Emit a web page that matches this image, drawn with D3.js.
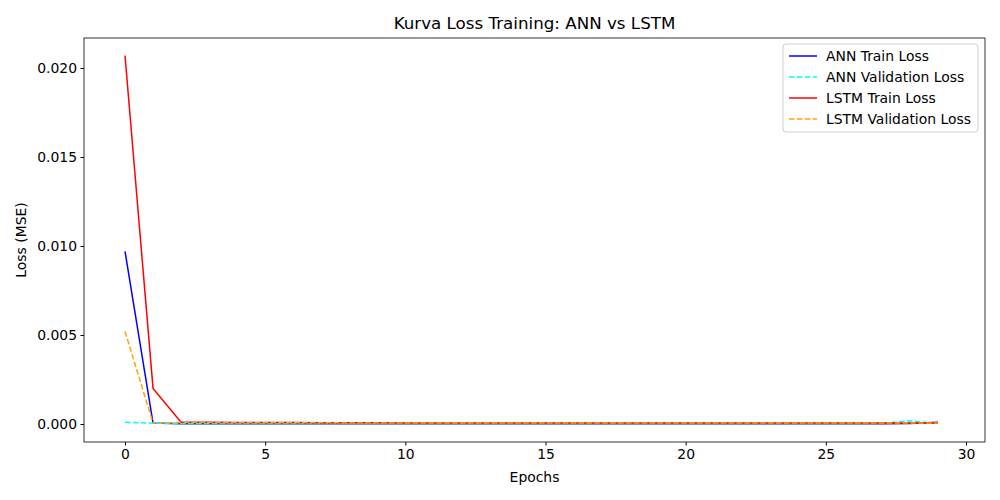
<!DOCTYPE html>
<html><head><meta charset="utf-8">
<script src="https://cdn.jsdelivr.net/npm/d3@7"></script>
<style>body{margin:0;background:#fff}text{font-family:"DejaVu Sans",sans-serif}</style>
</head><body><svg id="c" width="1000" height="500"></svg>
<script>
const epochs = d3.range(30);
const annTrain = [0.0097,0.00005,0.00002,0.00002,0.00002,0.00002,0.00002,0.00002,0.00002,0.00002,0.00002,0.00002,0.00002,0.00002,0.00002,0.00002,0.00002,0.00002,0.00002,0.00002,0.00002,0.00002,0.00002,0.00002,0.00002,0.00002,0.00002,0.00002,0.00003,0.0001];
const annVal = [0.0001,0.00004,0.00003,0.00003,0.00003,0.00003,0.00003,0.00003,0.00003,0.00003,0.00003,0.00003,0.00003,0.00003,0.00003,0.00003,0.00003,0.00003,0.00003,0.00003,0.00003,0.00003,0.00003,0.00003,0.00003,0.00003,0.00003,0.00004,0.00018,0.00003];
const lstmTrain = [0.0207,0.0020,0.0001,0.0001,0.00009,0.00008,0.00008,0.00007,0.00007,0.00007,0.00006,0.00006,0.00006,0.00006,0.00006,0.00006,0.00006,0.00005,0.00005,0.00005,0.00005,0.00005,0.00005,0.00005,0.00005,0.00005,0.00005,0.00005,0.00005,0.00005];
const lstmVal = [0.0052,0.00005,0.00008,0.00008,0.00007,0.00007,0.00007,0.00007,0.00006,0.00006,0.00006,0.00006,0.00006,0.00006,0.00006,0.00006,0.00006,0.00006,0.00006,0.00006,0.00006,0.00006,0.00006,0.00006,0.00006,0.00006,0.00006,0.00006,0.00006,0.00006];
const series = [
 {name:"ANN Train Loss", v:annTrain, c:"blue", d:null},
 {name:"ANN Validation Loss", v:annVal, c:"cyan", d:"5.5,2.4"},
 {name:"LSTM Train Loss", v:lstmTrain, c:"red", d:null},
 {name:"LSTM Validation Loss", v:lstmVal, c:"orange", d:"5.5,2.4"}];
const xTicks=[0,5,10,15,20,25,30], yTicks=[0,0.005,0.01,0.015,0.02];
const L=84,R=985,T=38,B=442;
const svg=d3.select("#c");
const x=d3.scaleLinear().domain([0,30]).range([125,966]);
const y=d3.scaleLinear().domain([0,0.02]).range([424,68]);
svg.append("clipPath").attr("id","cp").append("rect").attr("x",L).attr("y",T).attr("width",R-L).attr("height",B-T);
const g=svg.append("g").attr("clip-path","url(#cp)");
const line=d3.line().x((d,i)=>x(epochs[i])).y(d=>y(d));
series.forEach(s=>g.append("path").attr("d",line(s.v)).attr("fill","none").attr("stroke",s.c).attr("stroke-width",1.5).attr("stroke-dasharray",s.d));
svg.append("g").attr("transform",`translate(0,${B})`).call(d3.axisBottom(x).tickValues(xTicks).tickFormat(d3.format("d")).tickSizeOuter(0).tickSize(3.5).tickPadding(3.5)).call(a=>a.select(".domain").remove());
svg.append("g").attr("transform",`translate(${L},0)`).call(d3.axisLeft(y).tickValues(yTicks).tickFormat(d3.format(".3f")).tickSizeOuter(0).tickSize(3.5).tickPadding(3.5)).call(a=>a.select(".domain").remove());
svg.selectAll(".tick text").attr("font-size",13.9).attr("fill","#000").style("font-family","DejaVu Sans");
svg.selectAll(".tick line").attr("stroke","#000");
svg.append("rect").attr("x",L).attr("y",T).attr("width",R-L).attr("height",B-T).attr("fill","none").attr("stroke","#000").attr("stroke-width",0.8);
svg.append("text").attr("x",(L+R)/2).attr("y",29).attr("text-anchor","middle").attr("font-size",16.7).text("Kurva Loss Training: ANN vs LSTM");
svg.append("text").attr("x",(L+R)/2).attr("y",482).attr("text-anchor","middle").attr("font-size",13.9).text("Epochs");
svg.append("text").attr("transform",`translate(26,${(T+B)/2}) rotate(-90)`).attr("text-anchor","middle").attr("font-size",13.9).text("Loss (MSE)");
const lg=svg.append("g").attr("transform","translate(783,44)");
lg.append("rect").attr("width",195).attr("height",88).attr("rx",3).attr("fill","#fff").attr("fill-opacity",0.8).attr("stroke","#ccc");
series.forEach((s,i)=>{const yy=12+i*21;
 lg.append("line").attr("x1",6).attr("x2",34).attr("y1",yy).attr("y2",yy).attr("stroke",s.c).attr("stroke-width",1.5).attr("stroke-dasharray",s.d);
 lg.append("text").attr("x",43).attr("y",yy+5).attr("font-size",13.9).text(s.name);});
</script></body></html>
